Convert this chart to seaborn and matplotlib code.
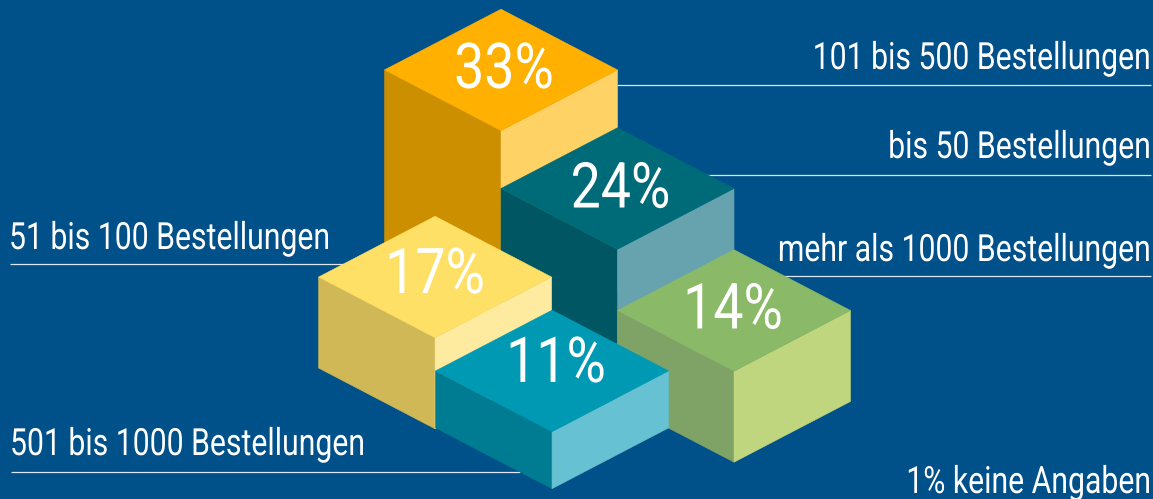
import matplotlib
matplotlib.use("Agg")
import matplotlib.pyplot as plt
import seaborn as sns
from matplotlib.patheffects import AbstractPathEffect
from matplotlib.transforms import Affine2D

# Data
categories = ["101 bis 500 Bestellungen", "bis 50 Bestellungen", "51 bis 100 Bestellungen",
              "mehr als 1000 Bestellungen", "501 bis 1000 Bestellungen"]
values = [33, 24, 17, 14, 11]
block_heights = [220, 150, 91, 91, 57]
no_answer = "1% keine Angaben"

# Layout: ground position of each block on the two iso axes
grid_a = [1.81, 2.71, 2.17, 3.728, 3.165]
grid_b = [1.81, 1.71, 2.736, 1.728, 2.727]
edge_x, edge_y = 116.5, 60.75
origin_x, origin_y = 501, 70

# Percent text offset from the centre of the top face
pct_dx = [3, 3, 0, -1, 4]
pct_dy = [18, 19, 16, 18, 11]

# Label anchor x, baseline y, rule y, rule start, rule end
label_side = ["right", "right", "left", "right", "left"]
label_x = [1151, 1151, 9, 1151, 10]
label_y = [69, 158, 249, 261, 455]
rule_y = [84.7, 174.5, 264, 276, 471.7]
rule_start = [617, 700, 10, 740, 11]
rule_end = [1151, 1151, 360, 1151, 520]

top_colors = ["#FFB000", "#006B78", "#FFE066", "#8AB968", "#0099B4"]
left_colors = ["#CC8F00", "#005763", "#CFB855", "#7FA366", "#007C92"]
right_colors = ["#FFD266", "#66A3AF", "#FFEBA0", "#BFD67F", "#66C1D2"]
bg = "#00508A"

sns.set_theme(style="white")
plt.rcParams["font.family"] = ["Roboto", "DejaVu Sans"]


class Squeeze(AbstractPathEffect):
    # the reference uses a condensed face, so narrow the glyphs around the anchor
    def __init__(self, factor, anchor):
        super().__init__()
        self.factor = factor
        self.anchor = anchor

    def draw_path(self, renderer, gc, tpath, affine, rgbFace=None):
        narrow = Affine2D().translate(-self.anchor, 0).scale(self.factor, 1).translate(self.anchor, 0)
        renderer.draw_path(gc, tpath, affine + narrow, rgbFace)


fig, ax = plt.subplots(figsize=(11.53, 4.99), dpi=100)
fig.patch.set_facecolor(bg)
ax.set_position([0, 0, 1, 1])
ax.set_xlim(0, 1153)
ax.set_ylim(499, 0)
ax.axis("off")


def project(a, b, z=0):
    return origin_x + (a - b) * edge_x, origin_y + (a + b) * edge_y - z


def face(points, color, order):
    ax.fill([p[0] for p in points], [p[1] for p in points], color=color, lw=0.4, zorder=order)


for i in range(len(values)):
    a, b, h = grid_a[i], grid_b[i], block_heights[i]
    back = project(a - 0.5, b - 0.5, h)
    right = project(a + 0.5, b - 0.5, h)
    front = project(a + 0.5, b + 0.5, h)
    left = project(a - 0.5, b + 0.5, h)
    right_low = project(a + 0.5, b - 0.5)
    front_low = project(a + 0.5, b + 0.5)
    left_low = project(a - 0.5, b + 0.5)
    order = i + 2
    face([left, front, front_low, left_low], left_colors[i], order)
    face([front, right, right_low, front_low], right_colors[i], order)
    face([back, right, front, left], top_colors[i], order)

    cx, cy = project(a, b, h)
    tx = cx + pct_dx[i]
    ax.text(tx, cy + pct_dy[i], f"{values[i]}%", color="white", fontsize=45.5, fontweight="normal",
            ha="center", va="baseline", zorder=10, path_effects=[Squeeze(0.85, tx)])

    ax.plot([rule_start[i], rule_end[i]], [rule_y[i], rule_y[i]], color="#DDE6EF", lw=0.9, zorder=1,
            solid_capstyle="butt")
    ax.text(label_x[i], label_y[i], categories[i], color="white", fontsize=27, fontweight="normal",
            ha=label_side[i], va="baseline", zorder=10, path_effects=[Squeeze(0.805, label_x[i])])

ax.text(1151, 493, no_answer, color="white", fontsize=27, fontweight="normal", ha="right", va="baseline",
        zorder=10, path_effects=[Squeeze(0.805, 1151)])

plt.savefig("out.png", dpi=100, facecolor=bg)
